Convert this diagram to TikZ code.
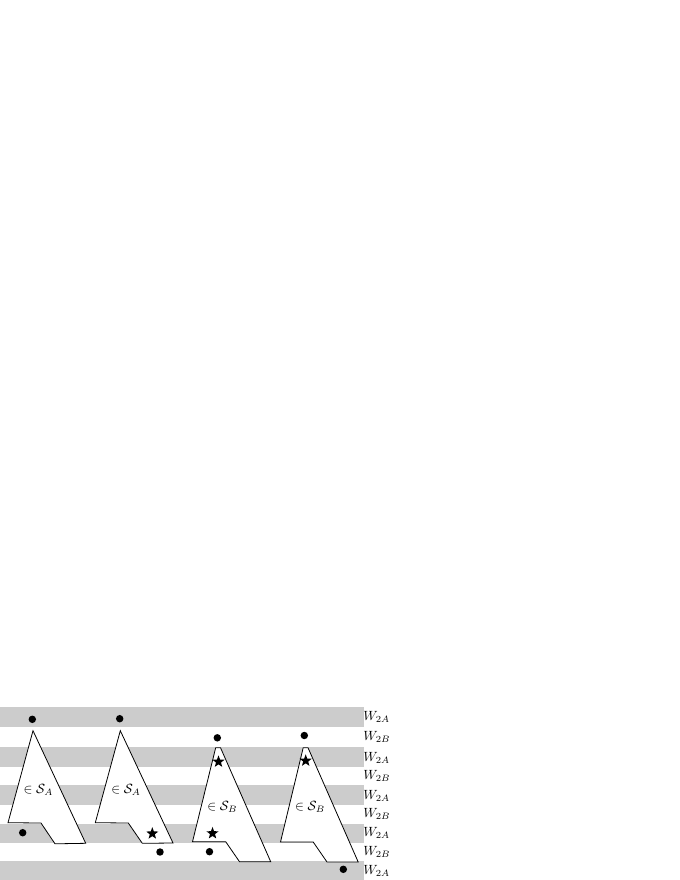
\documentclass[tikz,border=0pt]{standalone}
\usepackage{amssymb}
\usetikzlibrary{shapes.geometric}
\begin{document}
\begin{tikzpicture}[x=0.75pt,y=-0.75pt,
  band/.style={fill=black!20},
  region/.style={draw=black, fill=white, line width=0.6pt, line join=miter},
  dotnode/.style={circle, fill=black, inner sep=0pt, minimum size=5.6pt},
  starnode/.style={star, star points=5, star point ratio=2.4, fill=black, inner sep=0pt, minimum size=9.5pt},
  setlabel/.style={fill=white, inner sep=1pt},
  wlabel/.style={anchor=west, inner sep=0pt}]
\useasboundingbox (0,0) rectangle (680,880);
% stripes
\fill[band] (0,707.3) rectangle (364,726.7);
\fill[band] (0,747.3) rectangle (364,766.7);
\fill[band] (0,785) rectangle (364,805);
\fill[band] (0,824) rectangle (364,843);
\fill[band] (0,861) rectangle (364,880);
% stripe labels
\node[wlabel] (w1) at (363,717) {$W_{2A}$};
\node[wlabel] (w2) at (363,736.5) {$W_{2B}$};
\node[wlabel] (w3) at (363,757.5) {$W_{2A}$};
\node[wlabel] (w4) at (363,776) {$W_{2B}$};
\node[wlabel] (w5) at (363,795.5) {$W_{2A}$};
\node[wlabel] (w6) at (363,814) {$W_{2B}$};
\node[wlabel] (w7) at (363,833) {$W_{2A}$};
\node[wlabel] (w8) at (363,852) {$W_{2B}$};
\node[wlabel] (w9) at (363,870.5) {$W_{2A}$};
% regions
\draw[region] (33,730.7) -- (85.7,843.3) -- (55,843.8) -- (41,823) -- (8,822.7) -- cycle;
\draw[region] (120.3,730.7) -- (173,843) -- (142.3,843.3) -- (128.3,823) -- (95.3,822.7) -- cycle;
\draw[region] (215.7,747.7) -- (220.5,747.7) -- (270.7,861.7) -- (239.5,861.7) -- (225.7,841.7) -- (192.5,841.7) -- cycle;
\draw[region] (303.2,747.7) -- (308,747.7) -- (358.2,862) -- (327,862) -- (313.2,842) -- (280.5,842) -- cycle;
% set labels
\node[setlabel] (sa1) at (38.3,790) {$\in\mathcal{S}_A$};
\node[setlabel] (sa2) at (126,789.5) {$\in\mathcal{S}_A$};
\node[setlabel] (sb1) at (222.3,807) {$\in\mathcal{S}_B$};
\node[setlabel] (sb2) at (310,807) {$\in\mathcal{S}_B$};
% dots
\node[dotnode] (d1) at (32.3,719.3) {};
\node[dotnode] (d2) at (22.7,832.7) {};
\node[dotnode] (d3) at (119.7,718.7) {};
\node[dotnode] (d4) at (160,852) {};
\node[dotnode] (d5) at (217.3,737.8) {};
\node[dotnode] (d6) at (209.5,851.7) {};
\node[dotnode] (d7) at (304.3,735.5) {};
\node[dotnode] (d8) at (343.3,869.3) {};
% stars
\node[starnode] (s1) at (152.3,833.5) {};
\node[starnode] (s2) at (218.5,761.7) {};
\node[starnode] (s3) at (212.5,833.3) {};
\node[starnode] (s4) at (305.7,760.7) {};
\end{tikzpicture}
\end{document}
